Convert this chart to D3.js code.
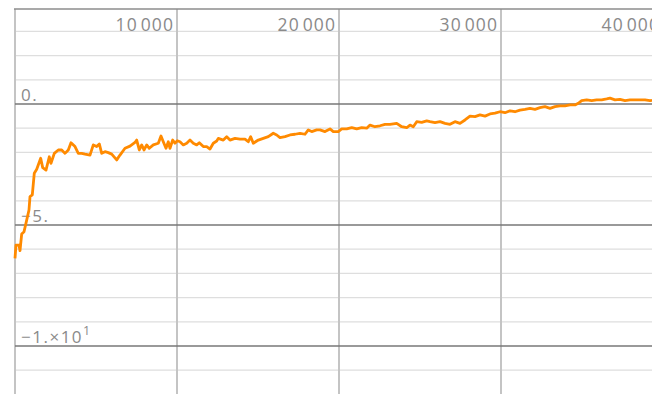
<!DOCTYPE html>
<html>
<head>
<meta charset="utf-8">
<script src="https://cdn.jsdelivr.net/npm/d3@7/dist/d3.min.js"></script>
<style>
  html, body { margin: 0; padding: 0; background: #fff; }
  svg { display: block; }
  .lbl { font-family: "Open Sans", "Noto Sans", sans-serif; fill: #8a8a8a; }
</style>
</head>
<body>
<svg id="chart" width="652" height="394"></svg>
<script>
// Training steps and the running value recorded at each step
const steps = [0, 62, 247, 309, 414, 556, 679, 864, 926, 1068, 1191, 1340, 1586, 1710, 1914, 2117, 2222, 2426, 2673, 2883,
  3086, 3290, 3457, 3704, 3907, 4117, 4321, 4630, 4833, 5043, 5204, 5352, 5556, 5759, 5969, 6278, 6481, 6790, 7099, 7407,
  7512, 7673, 7821, 7963, 8130, 8290, 8537, 8846, 9012, 9154, 9321, 9463, 9568, 9735, 9877, 10019, 10185, 10389, 10599, 10802,
  11006, 11216, 11377, 11623, 11833, 12037, 12241, 12451, 12549, 12858, 13068, 13272, 13580, 13889, 14198, 14401, 14549, 14710, 15019, 15327,
  15636, 15944, 16154, 16358, 16667, 16975, 17284, 17593, 17901, 18105, 18315, 18623, 18827, 19136, 19444, 19648, 19957, 20167, 20475, 20784,
  21093, 21401, 21710, 21914, 22222, 22531, 22840, 23148, 23562, 23870, 24179, 24383, 24586, 24796, 25105, 25414, 25617, 25926, 26235, 26543,
  26852, 27160, 27469, 27778, 28086, 28395, 28704, 29012, 29321, 29630, 29938, 30247, 30556, 30864, 31173, 31481, 31790, 32099, 32407, 32716,
  33025, 33333, 33642, 33951, 34259, 34568, 34772, 34981, 35290, 35599, 35907, 36216, 36525, 36728, 37037, 37346, 37654, 37963, 38272, 38580,
  38889, 39198, 39321];
const values = [-6.38, -5.83, -5.83, -6.06, -5.37, -5.28, -4.92, -4.38, -3.83, -3.76, -2.86, -2.70, -2.24, -2.63, -2.73, -2.18, -2.45, -2.04, -1.90, -1.90,
  -2.04, -1.90, -1.60, -1.76, -2.04, -2.04, -2.07, -2.11, -1.69, -1.76, -1.65, -2.04, -1.97, -2.01, -2.07, -2.31, -2.11, -1.83, -1.74, -1.59,
  -1.49, -1.90, -1.69, -1.90, -1.69, -1.83, -1.69, -1.62, -1.32, -1.56, -1.83, -1.56, -1.83, -1.49, -1.62, -1.52, -1.56, -1.69, -1.62, -1.49,
  -1.62, -1.69, -1.60, -1.76, -1.76, -1.86, -1.62, -1.53, -1.42, -1.49, -1.35, -1.49, -1.42, -1.45, -1.45, -1.56, -1.35, -1.62, -1.49, -1.42,
  -1.35, -1.21, -1.28, -1.39, -1.35, -1.28, -1.25, -1.21, -1.25, -1.07, -1.14, -1.07, -1.07, -1.14, -1.03, -1.14, -1.14, -1.03, -1.03, -0.98,
  -1.03, -0.98, -1.00, -0.87, -0.94, -0.90, -0.84, -0.84, -0.80, -0.94, -0.98, -0.87, -0.94, -0.73, -0.76, -0.70, -0.73, -0.77, -0.73, -0.80,
  -0.84, -0.73, -0.80, -0.66, -0.50, -0.52, -0.45, -0.50, -0.41, -0.38, -0.32, -0.36, -0.28, -0.32, -0.25, -0.22, -0.18, -0.22, -0.15, -0.11,
  -0.18, -0.11, -0.08, -0.08, -0.04, -0.04, 0.03, 0.14, 0.17, 0.14, 0.17, 0.17, 0.21, 0.24, 0.17, 0.19, 0.14, 0.17, 0.17, 0.17,
  0.17, 0.14, 0.15];

// Axis ticks
const xTicks = [10000, 20000, 30000, 40000];
const xTickLabels = ["10\u200a000", "20\u200a000", "30\u200a000", "40\u200a000"];
const yMajorTicks = [0, -5, -10];
const yMajorLabels = [["0.", null], ["\u22125.", null], ["\u22121.\u00d710", "1"]];
const yMinorTicks = [3, 2, 1, -1, -2, -3, -4, -6, -7, -8, -9, -11];

const W = 652, H = 394;
const plot = { left: 15, top: 9, right: W, bottom: H };

const x = d3.scaleLinear().domain([0, 10000]).range([plot.left, 177]);
const y = d3.scaleLinear().domain([0, -5]).range([104, 225]);

const svg = d3.select("#chart");

// light horizontal grid
svg.append("g").selectAll("line").data(yMinorTicks).join("line")
  .attr("x1", plot.left).attr("x2", plot.right)
  .attr("y1", d => y(d)).attr("y2", d => y(d))
  .attr("stroke", "#dedede").attr("stroke-width", 1.3);

// vertical grid
svg.append("g").selectAll("line").data(xTicks).join("line")
  .attr("x1", d => x(d)).attr("x2", d => x(d))
  .attr("y1", plot.top).attr("y2", plot.bottom)
  .attr("stroke", "#c4c4c4").attr("stroke-width", 2);

// left edge
svg.append("line")
  .attr("x1", plot.left).attr("x2", plot.left)
  .attr("y1", plot.top).attr("y2", plot.bottom)
  .attr("stroke", "#c4c4c4").attr("stroke-width", 2);

// top edge
svg.append("line")
  .attr("x1", plot.left - 1).attr("x2", plot.right)
  .attr("y1", plot.top).attr("y2", plot.top)
  .attr("stroke", "#8c8c8c").attr("stroke-width", 1.3);

// major horizontal grid
svg.append("g").selectAll("line").data(yMajorTicks).join("line")
  .attr("x1", plot.left).attr("x2", plot.right)
  .attr("y1", d => y(d)).attr("y2", d => y(d))
  .attr("stroke", "#777").attr("stroke-width", 1.4);

// x tick labels, right-aligned against their grid line
svg.append("g").selectAll("text").data(xTicks).join("text")
  .attr("class", "lbl")
  .attr("x", d => x(d) - 3).attr("y", plot.top + 22)
  .attr("text-anchor", "end")
  .attr("font-size", 17.5)
  .attr("letter-spacing", "1.1px")
  .text((d, i) => xTickLabels[i]);

// y tick labels sit just above their grid line
const yl = svg.append("g").selectAll("text").data(yMajorTicks).join("text")
  .attr("class", "lbl")
  .attr("x", plot.left + 6).attr("y", d => y(d) - 3.5)
  .attr("font-size", 17)
  .attr("letter-spacing", "1.5px");
yl.append("tspan").text((d, i) => yMajorLabels[i][0]);
yl.filter((d, i) => yMajorLabels[i][1] !== null)
  .append("tspan")
  .attr("dy", -8).attr("font-size", 12.5)
  .text(d => yMajorLabels[yMajorTicks.indexOf(d)][1]);

// data line
const pts = steps.map((s, i) => [s, values[i]]);
svg.append("path")
  .datum(pts)
  .attr("fill", "none")
  .attr("stroke", "#ff8a00")
  .attr("stroke-width", 2.8)
  .attr("stroke-linejoin", "round")
  .attr("d", d3.line().x(d => x(d[0])).y(d => y(d[1])));
</script>
</body>
</html>
